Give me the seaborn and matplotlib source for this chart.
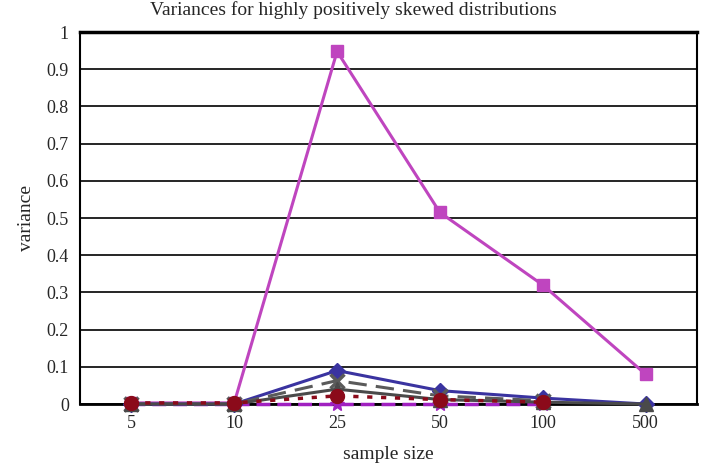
import pandas as pd
import matplotlib
matplotlib.use("Agg")
import matplotlib.pyplot as plt
import seaborn as sns

# sample sizes (categorical x axis)
sample_sizes = ["5", "10", "25", "50", "100", "500"]

# variance series (None = no point shown)
var_squares = [0.003, 0.003, 0.948, 0.515, 0.320, 0.080]
var_diamonds = [0.0, 0.0, 0.090, 0.036, 0.016, 0.0]
var_crosses = [0.0, 0.0, 0.063, 0.022, 0.009, None]
var_triangles = [0.0, 0.0, 0.040, 0.012, 0.005, 0.0]
var_circles = [0.003, 0.003, 0.022, 0.012, 0.005, None]
var_stars = [0.0, 0.0, 0.0, 0.0, 0.0, None]

series = {
    "stars": var_stars,
    "squares": var_squares,
    "diamonds": var_diamonds,
    "crosses": var_crosses,
    "triangles": var_triangles,
    "circles": var_circles,
}

styles = {
    "squares": dict(color="#BF45BF", marker="s", linestyle="-", markersize=9, lw=2.2),
    "diamonds": dict(color="#3A33A0", marker="D", linestyle="-", markersize=8, lw=2.2),
    "crosses": dict(color="#5a5a5a", marker="x", linestyle=(0, (6, 3)), markersize=10, lw=2.2,
                    markeredgewidth=2.5),
    "triangles": dict(color="#4a4a4a", marker="^", linestyle="-", markersize=10, lw=2.2),
    "circles": dict(color="#8B0A1A", marker="o", linestyle=(0, (1.5, 2.5)), markersize=10, lw=2.5),
    "stars": dict(color="#A020C0", marker="*", linestyle=(0, (4, 2)), markersize=11, lw=2.5),
}

rows = []
for name, vals in series.items():
    for i, v in enumerate(vals):
        if v is not None:
            rows.append({"series": name, "pos": i, "variance": v})
df = pd.DataFrame(rows)

sns.set_style("white")
plt.rcParams["font.family"] = ["Liberation Serif", "DejaVu Serif"]

fig = plt.figure(figsize=(7.07, 4.72), dpi=100)
ax = fig.add_axes([0.113, 0.144, 0.873, 0.788])

for name in series:
    sub = df[df["series"] == name]
    st = styles[name]
    sns.lineplot(data=sub, x="pos", y="variance", ax=ax, color=st["color"],
                 marker=st["marker"], markersize=st["markersize"],
                 linestyle=st["linestyle"], lw=st["lw"],
                 markeredgewidth=st.get("markeredgewidth", 1),
                 markeredgecolor=st["color"], clip_on=False, zorder=3)

ax.set_xlim(-0.5, 5.5)
ax.set_ylim(0, 1)
ax.set_xticks(range(len(sample_sizes)))
ax.set_xticklabels(sample_sizes)
ax.set_yticks([i / 10 for i in range(11)])
ax.set_yticklabels(["0"] + [f"{i / 10:g}" for i in range(1, 10)] + ["1"])
ax.tick_params(axis="both", labelsize=13, length=0, pad=8)

ax.yaxis.grid(True, color="black", lw=1.2)
ax.set_axisbelow(True)
for side in ax.spines.values():
    side.set_color("black")
    side.set_linewidth(1.5)
ax.spines["top"].set_linewidth(2.5)
ax.spines["bottom"].set_linewidth(2)

ax.set_xlabel("sample size", fontsize=14, labelpad=10)
ax.set_ylabel("variance", fontsize=14, labelpad=8)
fig.text(0.5, 0.998, "Variances for highly positively skewed distributions",
         ha="center", va="top", fontsize=14)

fig.savefig("out.png", dpi=100)
